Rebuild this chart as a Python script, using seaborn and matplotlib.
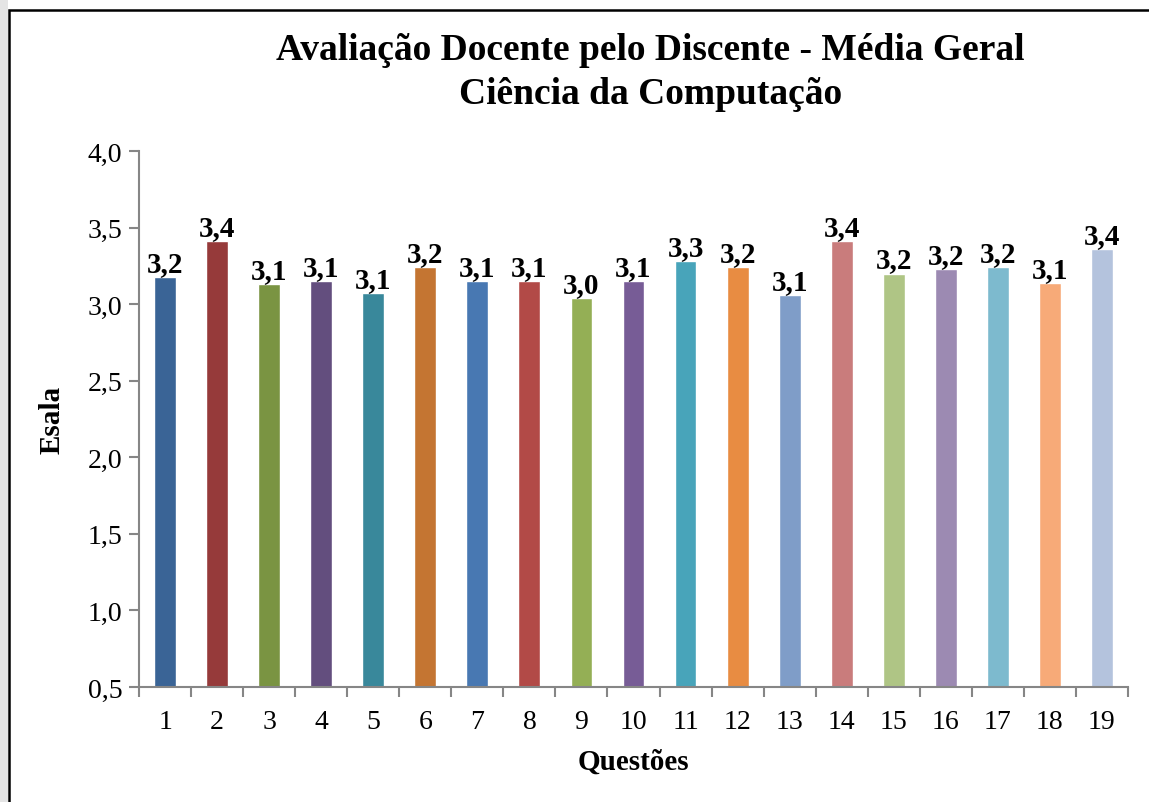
import pandas as pd
import numpy as np
import matplotlib.pyplot as plt
import matplotlib.patches as patches
import seaborn as sns

# questions and mean scores
questoes = [str(i) for i in range(1, 20)]
medias = [3.18, 3.41, 3.13, 3.15, 3.07, 3.24, 3.15, 3.15, 3.04, 3.15,
          3.28, 3.24, 3.06, 3.41, 3.20, 3.23, 3.245, 3.14, 3.36]
cores = ["#3A6496", "#963A3A", "#7A9442", "#634E7E", "#39889B", "#C47532",
         "#4878B2", "#B24A47", "#94AF55", "#775C96", "#48A4BA", "#E88C42",
         "#7F9DC8", "#C97C7C", "#AFC585", "#9C8AB2", "#7DBACE", "#F7AA78",
         "#B4C3DD"]
yticks = [0.5, 1.0, 1.5, 2.0, 2.5, 3.0, 3.5, 4.0]

df = pd.DataFrame({"Questao": questoes, "Media": medias})

sns.set_theme(style="white")
plt.rcParams["font.family"] = ["Liberation Serif", "DejaVu Serif"]
plt.rcParams["text.color"] = "black"
plt.rcParams["axes.labelcolor"] = "black"
plt.rcParams["xtick.color"] = "black"
plt.rcParams["ytick.color"] = "black"

fig = plt.figure(figsize=(11.49, 8.03), dpi=100)
ax = fig.add_axes([0.121, 0.1432, 0.8607, 0.6675])

sns.barplot(data=df, x="Questao", y="Media", hue="Questao", palette=cores,
            width=0.42, legend=False, saturation=1, ax=ax)

# value labels with decimal comma
for c in ax.containers:
    labs = [f"{b.get_height():.1f}".replace(".", ",") for b in c]
    ax.bar_label(c, labels=labs, padding=0, fontsize=21, fontweight="bold")

ax.set_xlim(-0.5, 18.5)
ax.set_ylim(0.5, 4.0)
ax.set_yticks(yticks)
ax.set_yticklabels([f"{v:.1f}".replace(".", ",") for v in yticks])

gray = "#868686"
for s in ["top", "right"]:
    ax.spines[s].set_visible(False)
for s in ["left", "bottom"]:
    ax.spines[s].set_color(gray)
    ax.spines[s].set_linewidth(1.5)

# ticks between categories, labels centred on bars
ax.set_xticks(np.arange(-0.5, 19, 1), minor=True)
ax.tick_params(axis="x", which="major", length=0, pad=16, labelsize=20)
ax.tick_params(axis="x", which="minor", length=7, width=1.5, color=gray, direction="out", bottom=True)
ax.tick_params(axis="y", length=7, width=1.5, color=gray, direction="out", left=True, labelsize=20, pad=5)

ax.set_xlabel("Questões", fontsize=21, fontweight="bold", labelpad=10)
ax.set_ylabel("Esala", fontsize=21, fontweight="bold", labelpad=16)

fig.text(0.566, 1 - 33 / 803, "Avaliação Docente pelo Discente - Média Geral\nCiência da Computação",
         ha="center", va="top", fontsize=27, fontweight="bold", linespacing=1.35)

# page edge and chart frame
fig.patches.append(patches.Rectangle((0, 0), 8 / 1149, 1, transform=fig.transFigure,
                                     facecolor="#E4E4E4", edgecolor="none"))
fig.patches.append(patches.Rectangle((9 / 1149, -0.01), 1.0, 1 - 11 / 803 + 0.01,
                                     transform=fig.transFigure, facecolor="none",
                                     edgecolor="black", linewidth=1.8))

plt.savefig("out.png", dpi=100)
